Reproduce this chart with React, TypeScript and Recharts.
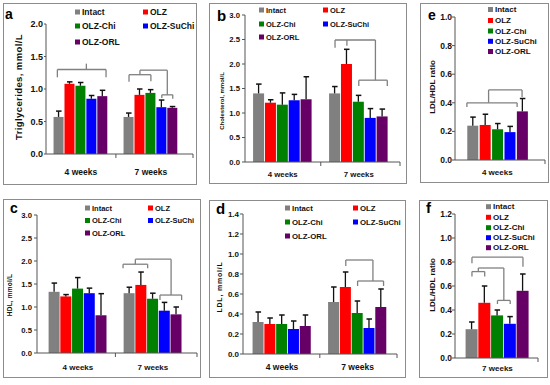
import React from 'react';
import { BarChart, Bar, XAxis, YAxis, ReferenceLine } from 'recharts';

const FONT = "'Liberation Sans', Arial, Helvetica, sans-serif";
const SERIES = ['Intact', 'OLZ', 'OLZ-Chi', 'OLZ-SuChi', 'OLZ-ORL'];
const COLORS = ['#808080', '#ff0000', '#008000', '#0000ff', '#660066'];
const WEEKS = ['4 weeks', '7 weeks'];
const G = 6.4; // slot offset of the second group

// a: Triglycerides
const tg4 = [0.57, 1.08, 1.05, 0.85, 0.89];
const tg4Err = [0.66, 1.11, 1.1, 0.9, 0.98];
const tg7 = [0.57, 0.91, 0.94, 0.72, 0.71];
const tg7Err = [0.63, 1.0, 0.99, 0.83, 0.73];
// b: Cholesterol
const chol4 = [1.4, 1.21, 1.17, 1.26, 1.28];
const chol4Err = [1.59, 1.27, 1.41, 1.38, 1.74];
const chol7 = [1.4, 2.0, 1.23, 0.9, 0.93];
const chol7Err = [1.54, 2.3, 1.36, 1.09, 1.08];
// c: HDL
const hdl4 = [1.33, 1.23, 1.4, 1.3, 0.82];
const hdl4Err = [1.52, 1.27, 1.64, 1.41, 1.29];
const hdl7 = [1.3, 1.48, 1.18, 0.92, 0.84];
const hdl7Err = [1.43, 1.76, 1.3, 1.1, 1.0];
// d: LDL
const ldl4 = [0.32, 0.3, 0.3, 0.25, 0.28];
const ldl4Err = [0.42, 0.36, 0.39, 0.33, 0.39];
const ldl7 = [0.52, 0.67, 0.41, 0.26, 0.47];
const ldl7Err = [0.67, 0.82, 0.53, 0.35, 0.65];
// e: LDL/HDL 4 weeks
const ratio4 = [0.24, 0.245, 0.215, 0.195, 0.34];
const ratio4Err = [0.3, 0.32, 0.255, 0.235, 0.43];
// f: LDL/HDL 7 weeks
const ratio7 = [0.24, 0.46, 0.355, 0.285, 0.56];
const ratio7Err = [0.3, 0.6, 0.4, 0.345, 0.7];

// significance brackets: [x1, y1, x2, y2] in (bar slot, value) units
type Seg = [number, number, number, number];
const tgBrackets: Seg[] = [
  [-0.15, 1.18, -0.15, 1.3], [-0.15, 1.3, 4.3, 1.3], [4.3, 1.3, 4.3, 1.18], [2.5, 1.3, 2.5, 1.39],
  [6.4, 1.11, 6.4, 1.22], [6.4, 1.22, 8.4, 1.22], [8.4, 1.22, 8.4, 1.12], [7.4, 1.22, 7.4, 1.29],
  [7.4, 1.29, 9.9, 1.29], [9.9, 1.29, 9.9, 0.91], [9.4, 0.91, 10.4, 0.91], [9.4, 0.91, 9.4, 0.86], [10.4, 0.91, 10.4, 0.85],
];
const cholBrackets: Seg[] = [
  [6.4, 2.33, 6.4, 2.49], [6.4, 2.49, 9.8, 2.49], [7.4, 2.49, 7.4, 2.37],
  [9.8, 2.49, 9.8, 1.67], [8.4, 1.67, 10.8, 1.67], [8.4, 1.67, 8.4, 1.55], [10.8, 1.67, 10.8, 1.55],
];
const hdlBrackets: Seg[] = [
  [5.85, 1.84, 5.85, 1.93], [5.85, 1.93, 7.95, 1.93], [7.95, 1.93, 7.95, 1.84], [6.9, 1.93, 6.9, 2.04],
  [6.9, 2.04, 9.95, 2.04], [9.95, 2.04, 9.95, 1.26], [9.0, 1.26, 10.85, 1.26], [9.0, 1.26, 9.0, 1.15], [10.85, 1.26, 10.85, 1.15],
];
const ldlBrackets: Seg[] = [
  [7.4, 0.88, 7.4, 0.94], [7.4, 0.94, 9.7, 0.94], [9.7, 0.94, 9.7, 0.73],
  [8.4, 0.73, 10.6, 0.73], [8.4, 0.73, 8.4, 0.68], [10.6, 0.73, 10.6, 0.68],
];
const ratio4Brackets: Seg[] = [
  [-0.45, 0.37, -0.45, 0.4], [-0.45, 0.4, 3.6, 0.4], [3.6, 0.4, 3.6, 0.37],
  [1.3, 0.4, 1.3, 0.49], [1.3, 0.49, 4, 0.49], [4, 0.49, 4, 0.44],
];
const ratio7Brackets: Seg[] = [
  [0, 0.79, 0, 0.84], [0, 0.84, 4, 0.84], [4, 0.84, 4, 0.76],
  [0, 0.68, 0, 0.72], [0, 0.72, 1, 0.72], [1, 0.72, 1, 0.68], [0.5, 0.72, 0.5, 0.75],
  [0.5, 0.75, 2.5, 0.75], [2.5, 0.75, 2.5, 0.48], [2, 0.48, 3, 0.48], [2, 0.48, 2, 0.45], [3, 0.48, 3, 0.45],
];

function buildRows(vals: number[][], errs: number[][]) {
  const out: any[] = [];
  vals.forEach((g, gi) => g.forEach((v, i) => out.push({ x: gi * G + i, v, hi: errs[gi][i], s: i })));
  return out;
}

const BarShape = (p: any) => {
  const { x, y, width, height, payload } = p;
  if (!height || height <= 0) return null;
  const k = height / payload.v;
  const ey = y - (payload.hi - payload.v) * k;
  const cx = x + width / 2;
  return (
    <g>
      <rect x={x} y={y} width={width} height={height} fill={COLORS[payload.s]} />
      <line x1={cx} y1={y} x2={cx} y2={ey} stroke="#111" strokeWidth={1.3} />
      <line x1={cx - 2.5} y1={ey} x2={cx + 3} y2={ey} stroke="#111" strokeWidth={1.5} />
    </g>
  );
};

type Cfg = {
  box: [number, number, number, number];
  plot: [number, number, number, number];
  yMax: number; yStep: number;
  xDomain: [number, number];
  centers: number[]; labels: string[]; bounds: number[];
  rows: any[]; brackets: Seg[];
  barSize: number; tickFs: number; xFs: number; xDy: number;
  yTickSize: number; yTickMargin: number;
};

function Panel({ cfg }: { cfg: Cfg }) {
  const [bx, by, bw, bh] = cfg.box;
  const [pl, pt, pr, pb] = cfg.plot;
  const yW = 30, xH = 16;
  const margin = { top: pt - by, left: pl - bx - yW, right: bx + bw - pr, bottom: by + bh - pb - xH };
  const yTicks: number[] = [];
  for (let v = 0; v <= cfg.yMax + 1e-9; v += cfg.yStep) yTicks.push(Math.round(v * 10) / 10);
  const XTick = (p: any) => {
    const { x, y, payload } = p;
    const idx = cfg.centers.indexOf(payload.value);
    if (idx >= 0) {
      return (
        <text x={x} y={y + cfg.xDy} textAnchor="middle" fontSize={cfg.xFs} fontWeight={700} fill="#111" fontFamily={FONT}>
          {cfg.labels[idx]}
        </text>
      );
    }
    return <line x1={x} y1={y} x2={x} y2={y + 4} stroke="#555" strokeWidth={1} />;
  };
  return (
    <>
      <div style={{ position: 'absolute', left: bx, top: by, width: bw, height: bh, border: '1px solid #8c8c8c', boxSizing: 'border-box' }} />
      <div style={{ position: 'absolute', left: bx, top: by }}>
        <BarChart width={bw} height={bh} data={cfg.rows} margin={margin}>
          <XAxis
            type="number" dataKey="x" domain={cfg.xDomain} allowDataOverflow
            ticks={[...cfg.centers, ...cfg.bounds]} interval={0}
            tickLine={false} tickSize={0} tickMargin={0} height={xH}
            axisLine={{ stroke: '#555' }} tick={XTick}
          />
          <YAxis
            type="number" domain={[0, cfg.yMax]} allowDataOverflow ticks={yTicks} interval={0}
            tickFormatter={(v: number) => v.toFixed(1)} width={yW}
            tick={{ fontSize: cfg.tickFs, fontWeight: 700, fill: '#111', fontFamily: FONT }}
            axisLine={{ stroke: '#555' }} tickLine={{ stroke: '#555' }}
            tickSize={cfg.yTickSize} tickMargin={cfg.yTickMargin}
          />
          <Bar dataKey="v" barSize={cfg.barSize} isAnimationActive={false} shape={BarShape} />
          {cfg.brackets.map((s, i) => (
            <ReferenceLine key={i} segment={[{ x: s[0], y: s[1] }, { x: s[2], y: s[3] }]} stroke="#808080" strokeWidth={1.3} ifOverflow="visible" />
          ))}
        </BarChart>
      </div>
    </>
  );
}

const mid = (4 + G) / 2;
const CENTERS2 = [2, G + 2];

const panels: Cfg[] = [
  { box: [3, 3, 194, 182], plot: [46, 24, 193, 154], yMax: 2, yStep: 0.5, xDomain: [-1.19, 12.25],
    centers: CENTERS2, labels: WEEKS, bounds: [mid, 12.25], rows: buildRows([tg4, tg7], [tg4Err, tg7Err]),
    brackets: tgBrackets, barSize: 10, tickFs: 9, xFs: 8.5, xDy: 21, yTickSize: 2, yTickMargin: 1 },
  { box: [209, 3, 198, 181], plot: [245, 15, 400, 162], yMax: 3, yStep: 0.5, xDomain: [-1.18, 11.87],
    centers: CENTERS2, labels: WEEKS, bounds: [mid, 11.87], rows: buildRows([chol4, chol7], [chol4Err, chol7Err]),
    brackets: cholBrackets, barSize: 11, tickFs: 7.7, xFs: 7.8, xDy: 15, yTickSize: 3, yTickMargin: 2 },
  { box: [420, 3, 129, 180], plot: [455, 17, 545, 160], yMax: 1, yStep: 0.2, xDomain: [-1.41, 5.85],
    centers: [2], labels: [WEEKS[0]], bounds: [5.85], rows: buildRows([ratio4], [ratio4Err]),
    brackets: ratio4Brackets, barSize: 11, tickFs: 8.5, xFs: 8, xDy: 15, yTickSize: 3, yTickMargin: 0 },
  { box: [3, 199, 198, 179], plot: [37, 215, 197, 353], yMax: 3, yStep: 0.5, xDomain: [-1.49, 12.16],
    centers: CENTERS2, labels: WEEKS, bounds: [mid, 12.16], rows: buildRows([hdl4, hdl7], [hdl4Err, hdl7Err]),
    brackets: hdlBrackets, barSize: 11, tickFs: 7.7, xFs: 8, xDy: 17, yTickSize: 3, yTickMargin: 2 },
  { box: [209, 200, 197, 178], plot: [243, 214, 397, 354], yMax: 1.4, yStep: 0.2, xDomain: [-1.31, 11.74],
    centers: CENTERS2, labels: WEEKS, bounds: [mid, 11.74], rows: buildRows([ldl4, ldl7], [ldl4Err, ldl7Err]),
    brackets: ldlBrackets, barSize: 11, tickFs: 8, xFs: 8.5, xDy: 16, yTickSize: 3, yTickMargin: 1 },
  { box: [419, 200, 129, 178], plot: [455, 214, 538, 358], yMax: 1.2, yStep: 0.2, xDomain: [-1.33, 5.18],
    centers: [2], labels: [WEEKS[1]], bounds: [5.18], rows: buildRows([ratio7], [ratio7Err]),
    brackets: ratio7Brackets, barSize: 12, tickFs: 8.4, xFs: 8, xDy: 13, yTickSize: 3, yTickMargin: 0 },
];

type Leg = { cols: number[]; rows: number[]; fs: number; perRow: number };
const legends: Leg[] = [
  { cols: [75, 143], rows: [12, 26, 42], fs: 8.5, perRow: 2 },
  { cols: [259, 323], rows: [10, 24, 37], fs: 7.5, perRow: 2 },
  { cols: [488], rows: [9.5, 20.5, 31, 41.3, 51.5], fs: 8, perRow: 1 },
  { cols: [85, 148], rows: [208, 220.5, 233], fs: 7.5, perRow: 2 },
  { cols: [285, 353], rows: [208, 222, 236], fs: 7.8, perRow: 2 },
  { cols: [486], rows: [206.7, 217.3, 227.7, 237.7, 247.7], fs: 8, perRow: 1 },
];

const letters = [
  { t: 'a', x: 5, y: 19, fs: 14 }, { t: 'b', x: 217, y: 21, fs: 15 }, { t: 'e', x: 428, y: 20, fs: 14 },
  { t: 'c', x: 10, y: 213, fs: 14 }, { t: 'd', x: 216, y: 214, fs: 15 }, { t: 'f', x: 426, y: 213, fs: 15 },
];

const yLabels = [
  { t: 'Triglycerides, mmol/L', x: 18, y: 87, fs: 9.5, ls: 0.4 },
  { t: 'Cholesterol, mmol/L', x: 222, y: 101, fs: 6, ls: 0 },
  { t: 'LDL/HDL ratio', x: 432, y: 87, fs: 8, ls: 0 },
  { t: 'HDL, mmol/L', x: 9, y: 295, fs: 6.5, ls: 0.2 },
  { t: 'LDL, mmol/L', x: 219, y: 287, fs: 7, ls: 0.8 },
  { t: 'LDL/HDL ratio', x: 432, y: 285, fs: 8, ls: 0 },
];

export default function App() {
  return (
    <div style={{ position: 'absolute', left: 0, top: 0, width: 550, height: 385, background: '#fff', fontFamily: FONT }}>
      {panels.map((p, i) => <Panel key={i} cfg={p} />)}
      <svg width={550} height={385} style={{ position: 'absolute', left: 0, top: 0, pointerEvents: 'none' }} fontFamily={FONT}>
        {letters.map((l, i) => (
          <text key={i} x={l.x} y={l.y} fontSize={l.fs} fontWeight={700} fill="#000">{l.t}</text>
        ))}
        {yLabels.map((l, i) => (
          <text key={i} transform={`translate(${l.x},${l.y}) rotate(-90)`} textAnchor="middle" dominantBaseline="central"
            fontSize={l.fs} fontWeight={700} letterSpacing={l.ls} fill="#111">{l.t}</text>
        ))}
        {legends.map((lg, li) => SERIES.map((name, si) => {
          const col = lg.cols[si % lg.perRow];
          const row = lg.rows[Math.floor(si / lg.perRow)];
          return (
            <g key={`${li}-${si}`}>
              <rect x={col} y={row - 2.5} width={5} height={5} fill={COLORS[si]} />
              <text x={col + 7} y={row} dominantBaseline="central" fontSize={lg.fs} fontWeight={700} fill="#111">{name}</text>
            </g>
          );
        }))}
      </svg>
    </div>
  );
}
